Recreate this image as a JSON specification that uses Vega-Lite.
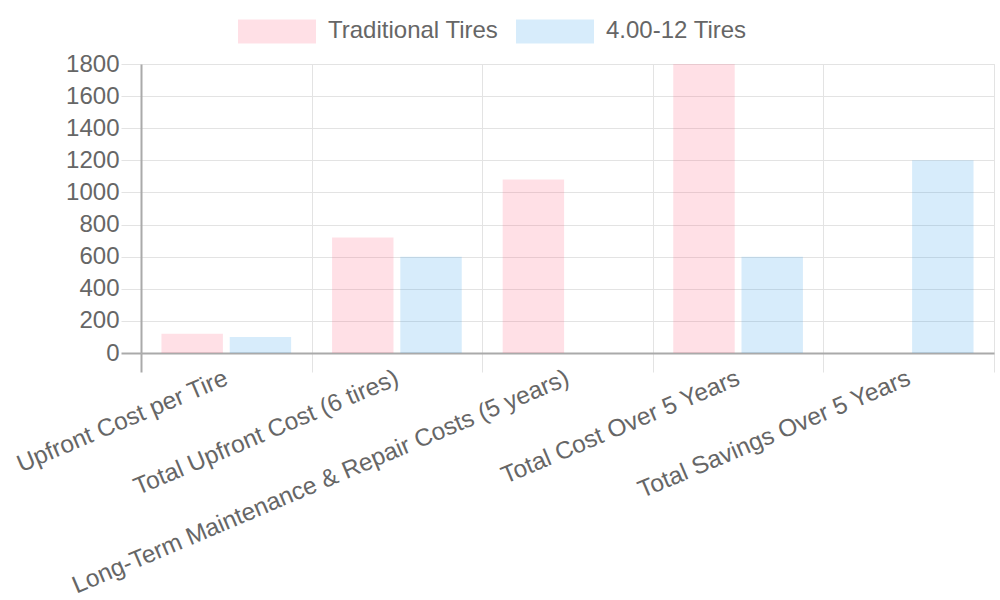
{
  "$schema": "https://vega.github.io/schema/vega-lite/v6.json",
  "width": 853,
  "height": 289,
  "autosize": {"type": "none"},
  "padding": {"left": 141, "top": 64, "right": 6, "bottom": 247},
  "background": "white",
  "config": {
    "font": "Liberation Sans",
    "view": {"stroke": "#e5e5e5", "strokeWidth": 1}
  },
  "data": {
    "values": [
      {"category": "Upfront Cost per Tire", "series": "Traditional Tires", "value": 120},
      {"category": "Upfront Cost per Tire", "series": "4.00-12 Tires", "value": 100},
      {"category": "Total Upfront Cost (6 tires)", "series": "Traditional Tires", "value": 720},
      {"category": "Total Upfront Cost (6 tires)", "series": "4.00-12 Tires", "value": 600},
      {"category": "Long-Term Maintenance & Repair Costs (5 years)", "series": "Traditional Tires", "value": 1080},
      {"category": "Long-Term Maintenance & Repair Costs (5 years)", "series": "4.00-12 Tires", "value": 0},
      {"category": "Total Cost Over 5 Years", "series": "Traditional Tires", "value": 1800},
      {"category": "Total Cost Over 5 Years", "series": "4.00-12 Tires", "value": 600},
      {"category": "Total Savings Over 5 Years", "series": "Traditional Tires", "value": 0},
      {"category": "Total Savings Over 5 Years", "series": "4.00-12 Tires", "value": 1200}
    ]
  },
  "mark": {"type": "bar"},
  "encoding": {
    "x": {
      "field": "category",
      "type": "nominal",
      "sort": null,
      "scale": {"paddingInner": 0, "paddingOuter": 0},
      "axis": {
        "title": null,
        "labelAngle": -23,
        "labelAlign": "right",
        "labelBaseline": "middle",
        "labelFontSize": 24.4,
        "labelColor": "#666",
        "labelPadding": 5,
        "labelLimit": 0,
        "labelOverlap": false,
        "tickBand": "extent",
        "tickSize": 19,
        "tickColor": {"condition": {"test": "datum.extra || datum.index === -1", "value": "#aaa"}, "value": "#e3e3e3"},
        "tickWidth": {"condition": {"test": "datum.extra || datum.index === -1", "value": 2}, "value": 1},
        "grid": true,
        "gridColor": "#e3e3e3",
        "domainColor": "#aaa",
        "domainWidth": 2
      }
    },
    "xOffset": {
      "field": "series",
      "type": "nominal",
      "sort": ["Traditional Tires", "4.00-12 Tires"],
      "scale": {"paddingInner": 0.1, "paddingOuter": 0.3}
    },
    "y": {
      "field": "value",
      "type": "quantitative",
      "scale": {"domain": [0, 1800], "nice": false},
      "axis": {
        "title": null,
        "format": "d",
        "values": [0, 200, 400, 600, 800, 1000, 1200, 1400, 1600, 1800],
        "labelFontSize": 24,
        "labelColor": "#666",
        "labelPadding": 2,
        "tickSize": 20,
        "tickColor": {"condition": {"test": "datum.value === 0", "value": "#aaa"}, "value": "#e3e3e3"},
        "tickWidth": {"condition": {"test": "datum.value === 0", "value": 2}, "value": 1},
        "gridColor": "#e3e3e3",
        "domainColor": "#aaa",
        "domainWidth": 2
      }
    },
    "color": {
      "field": "series",
      "type": "nominal",
      "scale": {
        "domain": ["Traditional Tires", "4.00-12 Tires"],
        "range": ["rgba(255,99,132,0.2)", "rgba(54,162,235,0.2)"]
      },
      "legend": {
        "orient": "none",
        "legendX": 97,
        "legendY": -72,
        "direction": "horizontal",
        "title": null,
        "symbolType": "M-1,-0.3077H1V0.3077H-1Z",
        "symbolSize": 6084,
        "symbolStrokeWidth": 0,
        "symbolOpacity": 1,
        "labelFontSize": 24,
        "labelLimit": 0,
        "labelColor": "#666",
        "labelOffset": 12,
        "columnPadding": 17,
        "padding": 0
      }
    }
  }
}
